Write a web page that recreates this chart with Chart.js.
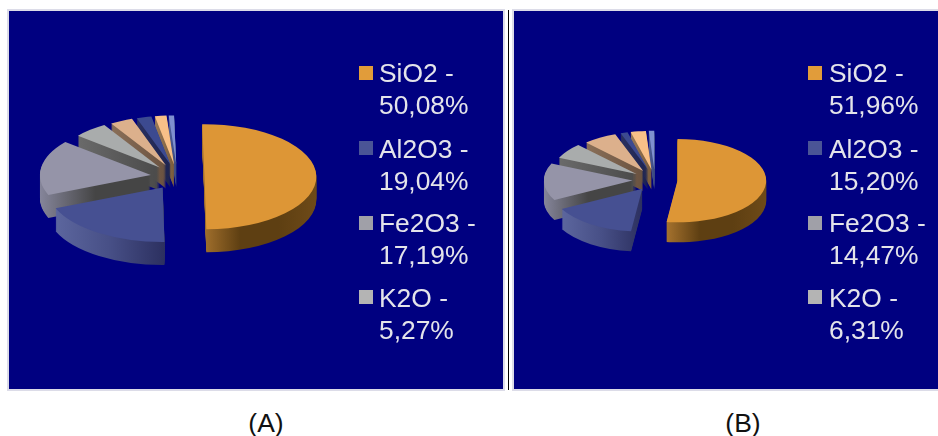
<!DOCTYPE html>
<html>
<head>
<meta charset="utf-8">
<script src="https://cdn.jsdelivr.net/npm/chart.js@4"></script>
<style>
  html, body { margin: 0; padding: 0; background: #fff; }
  body { width: 938px; height: 436px; position: relative; overflow: hidden; font-family: "Liberation Sans", Arial, sans-serif; }
  .panel { position: absolute; top: 9px; height: 378px; background: #000080; border: 2px solid #dcdce8; box-sizing: content-box; }
  .panel canvas { position: absolute; left: 0; top: 0; }
  #divider { position: absolute; left: 508px; top: 10px; width: 1px; height: 380px; background: #000; }
  .legend { position: absolute; top: 0; left: 0; color: #e4e4ea; font-size: 26.4px; line-height: 32px; }
  .item { position: absolute; white-space: nowrap; }
  .swatch { position: absolute; width: 14px; height: 14px; }
  .caption { position: absolute; top: 408px; font-size: 26.5px; line-height: 30px; color: #111; transform: translateX(-50%); }
</style>
</head>
<body>
<div class="panel" id="panelA" style="left:7px;width:494px"><canvas id="pieA" width="494" height="378"></canvas><div class="legend" id="legendA"></div></div>
<div id="divider"></div>
<div class="panel" id="panelB" style="left:512px;width:425px"><canvas id="pieB" width="425" height="378"></canvas><div class="legend" id="legendB"></div></div>
<div class="caption" style="left:266px">(A)</div>
<div class="caption" style="left:743px">(B)</div>
<script>
// Oxide composition of the two samples, in percent.
const oxides = ['SiO2', 'Al2O3', 'Fe2O3', 'K2O', 'CaO', 'MgO', 'TiO2', 'Other'];
const valuesA = [50.08, 19.04, 17.19, 5.27, 3.5, 2.3, 1.8, 0.82];
const valuesB = [51.96, 15.20, 14.47, 6.31, 6.6, 1.4, 3.0, 1.06];
const legendCount = 4;

// Top-face colours and the horizontal shading of each slice's wall.
const faceColors = ['#dd9636', '#465092', '#9594a8', '#a9acac', '#dcb08c', '#3c4a90', '#f8c088', '#7f90d0'];
const wallShades = [
  ['#a5722e', '#5e3f12', '#5e3f12', '#6e4a18'],
  ['#5c669e', '#474f86', '#2c3060'],
  ['#85859a', '#454545', '#454545'],
  ['#6a6a6a', '#4a4a4a'],
  ['#8a6f58', '#6a5240'],
  ['#2a3060', '#1e2450'],
  ['#9a7a58', '#7a5c3c'],
  ['#50609a', '#3a4880']
];
const swatchColors = ['#e19c3a', '#4a5496', '#a0a0a8', '#b4b4b4'];

// Draws the flat Chart.js arcs as a tilted, exploded, extruded pie.
// Slices towards the back are drawn slightly smaller to suggest perspective.
const tiltedPie = {
  id: 'tiltedPie',
  beforeDatasetDraw(chart, args, opts) {
    const { ctx } = chart;
    const arcs = chart.getDatasetMeta(args.index).data.slice();
    const midAngle = a => (a.startAngle + a.endAngle) / 2;
    const order = arcs.map((a, i) => i).sort((p, q) => Math.sin(midAngle(arcs[p])) - Math.sin(midAngle(arcs[q])));

    const paint = (arc, fill, drop) => {
      const mid = midAngle(arc);
      const nearness = Math.sin(mid);
      const size = 1 + (nearness < 0 ? opts.backShrink : opts.frontGrow) * nearness;
      const kept = arc.options;
      arc.options = { backgroundColor: fill, borderColor: 'transparent', borderWidth: 0, offset: 0, spacing: 0,
                      borderAlign: 'center', circular: true, borderRadius: 0, borderDash: [], borderDashOffset: 0 };
      ctx.save();
      ctx.translate(opts.cx, opts.cy + drop);
      ctx.scale(1, opts.tilt);
      ctx.translate(Math.cos(mid) * opts.explode, Math.sin(mid) * opts.explode);
      ctx.scale(size, size);
      ctx.translate(-arc.x, -arc.y);
      arc.draw(ctx);
      ctx.restore();
      arc.options = kept;
    };

    const wallFill = (arc, i) => {
      let lo = 0, hi = 0;
      for (let s = 0; s <= 24; s++) {
        const x = Math.cos(arc.startAngle + (arc.endAngle - arc.startAngle) * s / 24) * arc.outerRadius;
        lo = Math.min(lo, x); hi = Math.max(hi, x);
      }
      const g = ctx.createLinearGradient(arc.x + lo, 0, arc.x + hi, 0);
      wallShades[i].forEach((c, n, all) => g.addColorStop(n / (all.length - 1), c));
      return g;
    };

    order.forEach(i => {
      const arc = arcs[i];
      const wall = wallFill(arc, i);
      for (let d = opts.depth; d >= 1; d--) paint(arc, wall, d);
      paint(arc, faceColors[i], 0);
    });
    return false;
  }
};

function buildChart(id, values, radius, rotation, layout) {
  new Chart(document.getElementById(id), {
    type: 'pie',
    data: { labels: oxides, datasets: [{ data: values, backgroundColor: faceColors, borderWidth: 0 }] },
    options: {
      responsive: false, animation: false, events: [],
      radius, rotation,
      plugins: { legend: { display: false }, tooltip: { enabled: false }, tiltedPie: layout }
    },
    plugins: [tiltedPie]
  });
}

function buildLegend(id, values, swatchX, textX) {
  const host = document.getElementById(id);
  const rowTops = [46, 122, 196, 271];
  const swatchTops = [55, 130, 205, 279];
  for (let i = 0; i < legendCount; i++) {
    const sw = document.createElement('div');
    sw.className = 'swatch';
    sw.style.cssText = `left:${swatchX}px;top:${swatchTops[i]}px;background:${swatchColors[i]}`;
    host.appendChild(sw);
    const item = document.createElement('div');
    item.className = 'item';
    item.style.cssText = `left:${textX}px;top:${rowTops[i]}px`;
    item.innerHTML = `${oxides[i]} -<br>${values[i].toFixed(2).replace('.', ',')}%`;
    host.appendChild(item);
  }
}

buildChart('pieA', valuesA, 112, -1.2, { cx: 168.5, cy: 166, tilt: 0.47, explode: 27, depth: 23, backShrink: 0.07, frontGrow: 0.04 });
buildChart('pieB', valuesB, 88.5, 0, { cx: 141, cy: 169, tilt: 0.47, explode: 22.5, depth: 20, backShrink: 0.07, frontGrow: 0.04 });
buildLegend('legendA', valuesA, 350, 370);
buildLegend('legendB', valuesB, 294, 315);
</script>
</body>
</html>
